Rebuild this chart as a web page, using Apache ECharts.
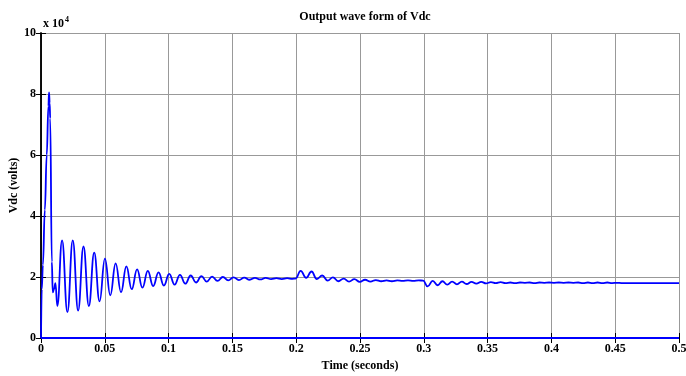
<!DOCTYPE html>
<html>
<head>
<meta charset="utf-8">
<script src="https://cdn.jsdelivr.net/npm/echarts@6/dist/echarts.min.js"></script>
<style>
  html, body { margin: 0; padding: 0; background: #fff; }
  #chart { width: 686px; height: 376px; }
</style>
</head>
<body>
<div id="chart"></div>
<script>
// values (Vdc in units of 1e4 volts)
const time = [
  0, 0.0006, 0.0015, 0.003, 0.0045, 0.0058, 0.0063, 0.0068, 0.0072, 0.0085,
  0.0092, 0.0102, 0.0113, 0.0128,
  0.0165, 0.0207, 0.0249, 0.0291, 0.0333, 0.0375, 0.0417, 0.0459, 0.0501, 0.0543,
  0.0585, 0.0627, 0.0669, 0.0711, 0.0753, 0.0795, 0.0837, 0.0879, 0.0921, 0.0963,
  0.1005, 0.1047, 0.1089, 0.1131, 0.1173, 0.1215, 0.1257, 0.1299, 0.1341, 0.1383,
  0.1425, 0.1467, 0.1509, 0.1551, 0.1593, 0.1635, 0.1677, 0.1719, 0.1761, 0.1803,
  0.1845, 0.1887, 0.1929, 0.1971, 0.1995,
  0.2035, 0.2078, 0.2120, 0.2162, 0.2204, 0.2246, 0.2288, 0.2330, 0.2372, 0.2414,
  0.2456, 0.2498, 0.2540, 0.2582, 0.2624, 0.2666, 0.2708, 0.2750, 0.2792, 0.2834,
  0.2876, 0.2918, 0.2960, 0.2995,
  0.3030, 0.3070, 0.3108, 0.3146, 0.3184, 0.3222, 0.3260, 0.3298, 0.3336, 0.3374,
  0.3412, 0.3450, 0.3488, 0.3526, 0.3564, 0.3602, 0.3640, 0.3678, 0.3716, 0.3754,
  0.3792, 0.3830, 0.3868, 0.3906, 0.3944, 0.3982, 0.4020, 0.4058, 0.4096, 0.4134,
  0.4172, 0.4210, 0.4248, 0.4286, 0.4324, 0.4362, 0.4400, 0.4438, 0.4476, 0.4514,
  0.4550, 0.5
];
const vdc = [
  0, 1.6, 2.4, 4.2, 6.0, 7.6, 8.05, 7.7, 7.2, 2.5,
  1.5, 1.6, 1.8, 1.05,
  3.2, 0.85, 3.2, 0.9, 3.0, 1.05, 2.8, 1.2, 2.6, 1.4,
  2.45, 1.5, 2.35, 1.6, 2.25, 1.65, 2.2, 1.7, 2.15, 1.72,
  2.1, 1.75, 2.07, 1.78, 2.05, 1.82, 2.03, 1.85, 2.01, 1.87,
  2.0, 1.89, 1.99, 1.9, 1.98, 1.91, 1.97, 1.92, 1.97, 1.93,
  1.96, 1.93, 1.96, 1.94, 1.95,
  2.2, 1.97, 2.18, 1.93, 2.05, 1.88, 1.99, 1.86, 1.95, 1.85,
  1.93, 1.84, 1.91, 1.85, 1.9, 1.86, 1.89, 1.86, 1.89, 1.87,
  1.89, 1.87, 1.89, 1.88,
  1.69, 1.87, 1.73, 1.86, 1.75, 1.85, 1.76, 1.85, 1.77, 1.84,
  1.78, 1.84, 1.79, 1.83, 1.8, 1.83, 1.8, 1.82, 1.8, 1.82,
  1.81, 1.82, 1.8, 1.82, 1.81, 1.82, 1.81, 1.82, 1.81, 1.82,
  1.81, 1.82, 1.8, 1.82, 1.8, 1.82, 1.8, 1.82, 1.8, 1.81,
  1.8, 1.8
];
// second trace sitting on zero
const zeroTime = [0, 0.5];
const zeroVal = [0, 0];

const xTicks = [0, 0.05, 0.1, 0.15, 0.2, 0.25, 0.3, 0.35, 0.4, 0.45, 0.5];
const yTicks = [0, 2, 4, 6, 8, 10];

const font = '"Liberation Serif", "Times New Roman", serif';
const chart = echarts.init(document.getElementById('chart'));

const boxAxis = {
  axisLine: {show: true, lineStyle: {color: '#000', width: 1.5}},
  axisTick: {show: true, inside: true, length: 5, lineStyle: {color: '#000'}},
  axisLabel: {show: false},
  splitLine: {show: false}
};

chart.setOption({
  animation: false,
  title: [
    {
      text: 'Output wave form of Vdc',
      left: 360, top: 6, textAlign: 'center',
      textStyle: {fontFamily: font, fontWeight: 'bold', fontSize: 12, color: '#000'}
    },
    {
      text: 'x 10{s|4}',
      left: 38, top: 11,
      textStyle: {
        fontFamily: font, fontWeight: 'bold', fontSize: 12, color: '#000',
        rich: {s: {fontFamily: font, fontSize: 8, verticalAlign: 'top', padding: [0, 0, 8, 1]}}
      }
    }
  ],
  grid: {left: 41, right: 7, top: 33, bottom: 38, outerBoundsMode: 'none', containLabel: false},
  xAxis: [
    {
      type: 'value', min: 0, max: 0.5, interval: 0.05,
      name: 'Time (seconds)', nameLocation: 'middle', nameGap: 22, nameMoveOverlap: false,
      nameTextStyle: {fontFamily: font, fontWeight: 'bold', fontSize: 12, color: '#000'},
      axisLine: {show: true, lineStyle: {color: '#000', width: 1.5}},
      axisTick: {show: true, inside: true, length: 5, lineStyle: {color: '#000'}},
      axisLabel: {
        fontFamily: font, fontWeight: 'bold', fontSize: 12, color: '#000', margin: 5,
        formatter: v => xTicks.indexOf(Math.round(v * 100) / 100) >= 0 ? String(Math.round(v * 100) / 100) : ''
      },
      splitLine: {show: true, lineStyle: {color: '#999', width: 1}}
    },
    Object.assign({type: 'value', position: 'top', min: 0, max: 0.5, interval: 0.05}, boxAxis)
  ],
  yAxis: [
    {
      type: 'value', min: 0, max: 10, interval: 2,
      name: 'Vdc (volts)', nameLocation: 'middle', nameGap: 21, nameMoveOverlap: false,
      nameTextStyle: {fontFamily: font, fontWeight: 'bold', fontSize: 12, color: '#000'},
      axisLine: {show: true, lineStyle: {color: '#000', width: 1.5}},
      axisTick: {show: true, inside: true, length: 5, lineStyle: {color: '#000'}},
      axisLabel: {
        fontFamily: font, fontWeight: 'bold', fontSize: 12, color: '#000', margin: 5,
        formatter: v => yTicks.indexOf(v) >= 0 ? String(v) : ''
      },
      splitLine: {show: true, lineStyle: {color: '#999', width: 1}}
    },
    Object.assign({type: 'value', position: 'right', min: 0, max: 10, interval: 2}, boxAxis)
  ],
  series: [
    {
      type: 'line',
      data: zeroTime.map((t, i) => [t, zeroVal[i]]),
      symbol: 'none',
      lineStyle: {color: '#0000ff', width: 2},
      z: 3
    },
    {
      type: 'line',
      data: time.map((t, i) => [t, vdc[i]]),
      symbol: 'none',
      smooth: 0.45,
      smoothMonotone: 'x',
      lineStyle: {color: '#0000ff', width: 1.8},
      z: 4
    }
  ]
});
</script>
</body>
</html>
